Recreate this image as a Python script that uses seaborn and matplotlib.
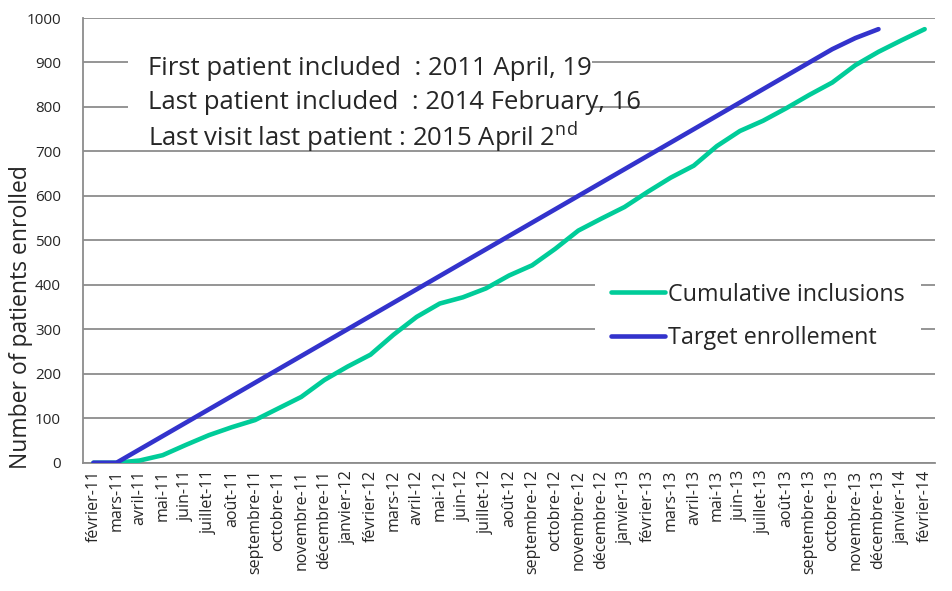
import numpy as np
import pandas as pd
import matplotlib.pyplot as plt
import seaborn as sns
from matplotlib.patches import Rectangle

# %%
months = [
    "février-11", "mars-11", "avril-11", "mai-11", "juin-11", "juillet-11",
    "août-11", "septembre-11", "octobre-11", "novembre-11", "décembre-11",
    "janvier-12", "février-12", "mars-12", "avril-12", "mai-12", "juin-12",
    "juillet-12", "août-12", "septembre-12", "octobre-12", "novembre-12",
    "décembre-12", "janvier-13", "février-13", "mars-13", "avril-13", "mai-13",
    "juin-13", "juillet-13", "août-13", "septembre-13", "octobre-13",
    "novembre-13", "décembre-13", "janvier-14", "février-14",
]

cumulative = [
    0, 0, 5, 17, 40, 62, 80, 96, 122, 148, 186, 216, 243, 288, 328, 358, 372,
    392, 421, 444, 481, 522, 549, 575, 609, 641, 668, 712, 746, 769, 797, 827,
    855, 894, 924, 950, 975,
]

target = [
    0, 0, 30, 60, 90, 120, 150, 180, 210, 240, 270, 300, 330, 360, 390, 420,
    450, 480, 510, 540, 570, 600, 630, 660, 690, 720, 750, 780, 810, 840, 870,
    900, 930, 955, 975, np.nan, np.nan,
]

df = pd.DataFrame(
    {"pos": np.arange(len(months)), "month": months,
     "Cumulative inclusions": cumulative, "Target enrollement": target}
)

# %%
sns.set_style("white")
plt.rcParams["font.family"] = ["Open Sans", "DejaVu Sans"]

fig = plt.figure(figsize=(9.52, 5.91), dpi=100)
ax = fig.add_axes([0.0872, 0.217, 0.8950, 0.7525])

green = "#00cc99"
blue = "#3333cc"

sns.lineplot(data=df, x="pos", y="Cumulative inclusions", ax=ax, color=green,
             linewidth=3.3, label="Cumulative inclusions",
             solid_capstyle="round", zorder=3)
sns.lineplot(data=df, x="pos", y="Target enrollement", ax=ax, color=blue,
             linewidth=3.3, label="Target enrollement",
             solid_capstyle="round", zorder=4)

ax.set_xlim(-0.45, len(months) - 0.55)
ax.set_ylim(0, 1000)
ax.set_yticks(range(0, 1001, 100))
ax.set_xticks(df["pos"])
ax.set_xticklabels(months, rotation=90, fontsize=11.5)
ax.tick_params(axis="y", labelsize=11, length=0, pad=16)
ax.tick_params(axis="x", length=0, pad=5)
ax.set_xlabel("")
ax.set_ylabel("")

ax.grid(axis="y", color="#8c8c8c", linewidth=1.3)
ax.set_axisbelow(True)
for side in ["top", "right"]:
    ax.spines[side].set_visible(False)
for side in ["left", "bottom"]:
    ax.spines[side].set_color("#8c8c8c")
    ax.spines[side].set_linewidth(1.3)

fig.text(0.022, 0.463, "Number of patients enrolled", rotation=90,
         ha="center", va="center", fontsize=16.5)

# white box behind the notes (hides grid lines like the original)
ax.add_patch(Rectangle((0.0528, 0.705), 0.545, 0.23, transform=ax.transAxes,
                       facecolor="white", edgecolor="none", zorder=1))
notes = [
    "First patient included  : 2011 April, 19",
    "Last patient included  : 2014 February, 16",
    "Last visit last patient : 2015 April 2$^{\\mathregular{nd}}$",
]
for i, line in enumerate(notes):
    ax.text(0.0763, 0.8876 - 0.0778 * i, line, transform=ax.transAxes,
            ha="left", va="center", fontsize=18.5, zorder=5)

leg = ax.legend(loc="center left", bbox_to_anchor=(0.601, 0.329),
                frameon=True, facecolor="white", edgecolor="none",
                framealpha=1, fancybox=False, borderaxespad=0,
                borderpad=0.7, handlelength=2.3, handletextpad=0.12,
                labelspacing=0.85, fontsize=16.8)
leg.set_zorder(6)

fig.savefig("out.png", dpi=100)
